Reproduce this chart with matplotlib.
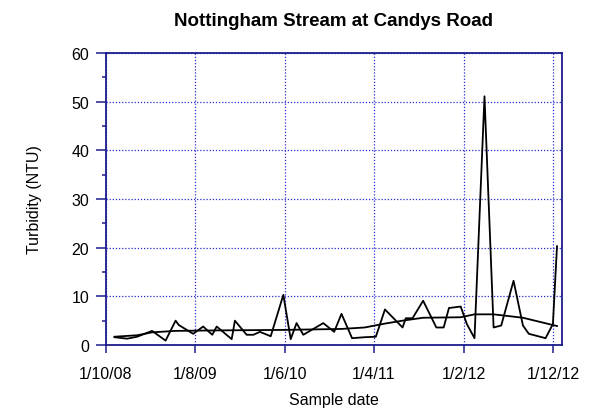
import matplotlib
matplotlib.use("Agg")
import matplotlib.pyplot as plt
import matplotlib.dates as mdates
from matplotlib.ticker import MultipleLocator
import pandas as pd

plt.rcParams['font.family'] = ['Liberation Sans', 'DejaVu Sans']

# Observed turbidity samples
sample_dates = ["2008-10-30", "2008-12-12", "2009-01-15", "2009-03-07", "2009-04-22",
                "2009-05-26", "2009-06-06", "2009-07-25", "2009-08-28", "2009-09-28",
                "2009-10-13", "2009-12-03", "2009-12-14", "2010-01-23", "2010-02-15",
                "2010-03-09", "2010-04-15", "2010-05-28", "2010-06-22", "2010-07-12",
                "2010-08-04", "2010-10-11", "2010-11-17", "2010-12-12", "2011-01-17",
                "2011-03-01", "2011-04-08", "2011-05-09", "2011-07-08", "2011-07-19",
                "2011-08-11", "2011-09-16", "2011-10-31", "2011-11-25", "2011-12-13",
                "2012-01-22", "2012-02-12", "2012-03-09", "2012-04-12", "2012-05-13",
                "2012-06-08", "2012-07-20", "2012-08-21", "2012-09-10", "2012-11-06",
                "2012-12-01", "2012-12-15"]
turbidity = [1.6, 1.3, 1.7, 2.9, 0.9,
             5.0, 4.1, 2.3, 3.8, 2.1,
             3.8, 1.2, 5.0, 2.1, 2.1,
             2.7, 1.8, 10.3, 1.2, 4.5,
             2.1, 4.5, 2.7, 6.4, 1.4,
             1.6, 1.7, 7.3, 3.6, 5.5,
             5.5, 9.1, 3.6, 3.6, 7.6,
             7.9, 4.3, 1.4, 51.1, 3.6,
             4.0, 13.2, 4.0, 2.3, 1.4,
             4.3, 20.3]

# Smoothed trend
trend_dates = ["2008-10-30", "2009-01-15", "2009-03-07", "2009-05-26", "2009-10-13",
               "2010-05-28", "2010-12-12", "2011-03-01", "2011-05-09", "2011-07-08",
               "2011-09-16", "2012-01-22", "2012-03-09", "2012-05-13", "2012-08-21",
               "2012-12-01", "2012-12-15"]
trend = [1.7, 2.0, 2.6, 2.9, 3.0,
         3.1, 3.3, 3.6, 4.4, 5.0,
         5.6, 5.7, 6.3, 6.3, 5.6,
         4.1, 3.9]

tick_dates = ["2008-10-01", "2009-08-01", "2010-06-01", "2011-04-01", "2012-02-01", "2012-12-01"]
tick_labels = ["1/10/08", "1/8/09", "1/6/10", "1/4/11", "1/2/12", "1/12/12"]

navy = "#1c1c8c"
gridc = "#2a2ad0"

fig = plt.figure(figsize=(5.99, 4.10), dpi=100)
ax = fig.add_axes([106/599, 1-346/410, (562-106)/599, (346-54)/410])

ax.plot(pd.to_datetime(sample_dates), turbidity, color="black", lw=1.3, zorder=3)
ax.plot(pd.to_datetime(trend_dates), trend, color="black", lw=1.3, zorder=3)

ax.set_xlim(pd.Timestamp("2008-10-01"), pd.Timestamp("2013-01-01"))
ax.set_ylim(0, 60)
ax.set_xticks(pd.to_datetime(tick_dates))
ax.set_xticklabels(tick_labels)
ax.yaxis.set_major_locator(MultipleLocator(10))
ax.yaxis.set_minor_locator(MultipleLocator(5))

for s in ax.spines.values():
    s.set_color(navy)
    s.set_linewidth(1.3)

ax.tick_params(axis='both', which='major', direction='out', length=7, width=1.1,
               color=navy, labelsize=11.5)
ax.tick_params(axis='y', which='minor', direction='out', length=3.2, width=1.1, color=navy)
ax.tick_params(axis='y', which='major', pad=5)
ax.tick_params(axis='x', which='major', length=6, pad=9)

ax.grid(True, which='major', color=gridc, linestyle=(0, (1, 1.5)), linewidth=0.9)
ax.set_axisbelow(True)

ax.set_title("Nottingham Stream at Candys Road", fontsize=13.5, fontweight='bold', pad=20)
ax.set_ylabel("Turbidity (NTU)", fontsize=11.5, labelpad=21)
ax.set_xlabel("Sample date", fontsize=11.5, labelpad=8)

fig.savefig("out.png", dpi=100)
